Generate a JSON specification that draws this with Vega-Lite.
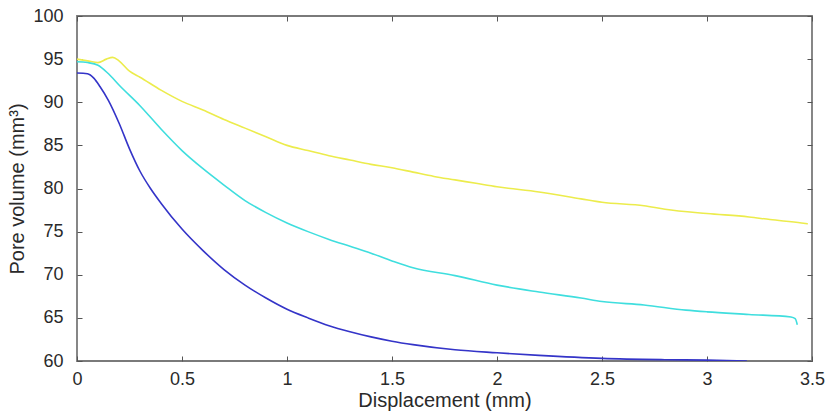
{
  "$schema": "https://vega.github.io/schema/vega-lite/v6.json",
  "width": 735,
  "height": 345,
  "autosize": {"type": "none"},
  "padding": {"left": 77, "top": 16, "right": 19, "bottom": 53},
  "background": "white",
  "config": {
    "view": {"stroke": "#7a7a7a", "strokeWidth": 1.8},
    "font": "Liberation Sans",
    "axis": {
      "grid": false,
      "domain": false,
      "tickColor": "#555555",
      "tickSize": -5,
      "tickWidth": 1,
      "labelFont": "Liberation Sans",
      "labelFontSize": 18,
      "labelColor": "#2a2a2a",
      "titleFont": "Liberation Sans",
      "titleFontSize": 20,
      "titleFontWeight": "normal",
      "titleColor": "#2a2a2a"
    }
  },
  "data": {
    "values": [
      {"s": "A", "x": 0, "y": 95.0}, {"s": "A", "x": 0.05, "y": 94.8}, {"s": "A", "x": 0.1, "y": 94.6}, {"s": "A", "x": 0.14, "y": 95.0}, {"s": "A", "x": 0.17, "y": 95.2}, {"s": "A", "x": 0.2, "y": 94.8}, {"s": "A", "x": 0.25, "y": 93.6}, {"s": "A", "x": 0.3, "y": 92.9}, {"s": "A", "x": 0.4, "y": 91.4}, {"s": "A", "x": 0.5, "y": 90.1}, {"s": "A", "x": 0.6, "y": 89.1}, {"s": "A", "x": 0.7, "y": 88.0}, {"s": "A", "x": 0.8, "y": 87.0}, {"s": "A", "x": 0.9, "y": 86.0}, {"s": "A", "x": 1.0, "y": 85.0}, {"s": "A", "x": 1.1, "y": 84.4}, {"s": "A", "x": 1.2, "y": 83.8}, {"s": "A", "x": 1.3, "y": 83.3}, {"s": "A", "x": 1.4, "y": 82.8}, {"s": "A", "x": 1.5, "y": 82.4}, {"s": "A", "x": 1.6, "y": 81.9}, {"s": "A", "x": 1.7, "y": 81.4}, {"s": "A", "x": 1.8, "y": 81.0}, {"s": "A", "x": 1.9, "y": 80.6}, {"s": "A", "x": 2.0, "y": 80.2}, {"s": "A", "x": 2.2, "y": 79.6}, {"s": "A", "x": 2.4, "y": 78.8}, {"s": "A", "x": 2.5, "y": 78.4}, {"s": "A", "x": 2.7, "y": 78.0}, {"s": "A", "x": 2.8, "y": 77.6}, {"s": "A", "x": 3.0, "y": 77.1}, {"s": "A", "x": 3.2, "y": 76.7}, {"s": "A", "x": 3.3, "y": 76.4}, {"s": "A", "x": 3.45, "y": 76.0}, {"s": "A", "x": 3.48, "y": 75.9},
      {"s": "B", "x": 0, "y": 94.7}, {"s": "B", "x": 0.05, "y": 94.6}, {"s": "B", "x": 0.1, "y": 94.3}, {"s": "B", "x": 0.15, "y": 93.3}, {"s": "B", "x": 0.2, "y": 92.0}, {"s": "B", "x": 0.3, "y": 89.6}, {"s": "B", "x": 0.4, "y": 86.9}, {"s": "B", "x": 0.5, "y": 84.4}, {"s": "B", "x": 0.6, "y": 82.3}, {"s": "B", "x": 0.7, "y": 80.4}, {"s": "B", "x": 0.8, "y": 78.6}, {"s": "B", "x": 0.9, "y": 77.2}, {"s": "B", "x": 1.0, "y": 76.0}, {"s": "B", "x": 1.1, "y": 75.0}, {"s": "B", "x": 1.2, "y": 74.1}, {"s": "B", "x": 1.3, "y": 73.3}, {"s": "B", "x": 1.4, "y": 72.5}, {"s": "B", "x": 1.5, "y": 71.6}, {"s": "B", "x": 1.6, "y": 70.8}, {"s": "B", "x": 1.8, "y": 69.9}, {"s": "B", "x": 2.0, "y": 68.8}, {"s": "B", "x": 2.2, "y": 68.0}, {"s": "B", "x": 2.4, "y": 67.3}, {"s": "B", "x": 2.5, "y": 66.9}, {"s": "B", "x": 2.7, "y": 66.5}, {"s": "B", "x": 2.9, "y": 65.9}, {"s": "B", "x": 3.0, "y": 65.7}, {"s": "B", "x": 3.2, "y": 65.4}, {"s": "B", "x": 3.4, "y": 65.1}, {"s": "B", "x": 3.42, "y": 64.9}, {"s": "B", "x": 3.43, "y": 64.2},
      {"s": "C", "x": 0, "y": 93.4}, {"s": "C", "x": 0.05, "y": 93.3}, {"s": "C", "x": 0.08, "y": 92.8}, {"s": "C", "x": 0.11, "y": 91.8}, {"s": "C", "x": 0.15, "y": 90.2}, {"s": "C", "x": 0.2, "y": 87.6}, {"s": "C", "x": 0.25, "y": 84.6}, {"s": "C", "x": 0.3, "y": 82.0}, {"s": "C", "x": 0.35, "y": 80.0}, {"s": "C", "x": 0.4, "y": 78.3}, {"s": "C", "x": 0.5, "y": 75.3}, {"s": "C", "x": 0.6, "y": 72.8}, {"s": "C", "x": 0.7, "y": 70.6}, {"s": "C", "x": 0.8, "y": 68.8}, {"s": "C", "x": 0.9, "y": 67.3}, {"s": "C", "x": 1.0, "y": 66.0}, {"s": "C", "x": 1.1, "y": 65.0}, {"s": "C", "x": 1.2, "y": 64.1}, {"s": "C", "x": 1.3, "y": 63.4}, {"s": "C", "x": 1.4, "y": 62.8}, {"s": "C", "x": 1.5, "y": 62.3}, {"s": "C", "x": 1.6, "y": 61.9}, {"s": "C", "x": 1.8, "y": 61.3}, {"s": "C", "x": 2.0, "y": 60.95}, {"s": "C", "x": 2.2, "y": 60.65}, {"s": "C", "x": 2.5, "y": 60.3}, {"s": "C", "x": 2.8, "y": 60.15}, {"s": "C", "x": 3.0, "y": 60.1}, {"s": "C", "x": 3.19, "y": 60.0}
    ]
  },
  "layer": [
    {
      "mark": {"type": "line", "strokeWidth": 1.6, "clip": true, "interpolate": "monotone"},
      "encoding": {
        "x": {"field": "x", "type": "quantitative", "scale": {"domain": [0, 3.5], "nice": false, "zero": false},
          "axis": {"title": "Displacement (mm)", "values": [0, 0.5, 1, 1.5, 2, 2.5, 3, 3.5], "format": "~r", "labelPadding": 14, "titlePadding": 2, "labelFlush": false}},
        "y": {"field": "y", "type": "quantitative", "scale": {"domain": [60, 100], "nice": false, "zero": false},
          "axis": {"title": "Pore volume (mm³)", "values": [60, 65, 70, 75, 80, 85, 90, 95, 100], "format": "d", "labelPadding": 19, "titlePadding": 5, "labelFlush": false}},
        "color": {"field": "s", "type": "nominal", "legend": null,
          "scale": {"domain": ["A", "B", "C"], "range": ["#ecec4c", "#3fdede", "#3434c8"]}},
        "order": {"field": "x", "type": "quantitative"}
      }
    },
    {
      "mark": {"type": "line", "opacity": 0},
      "encoding": {
        "x": {"field": "x", "type": "quantitative", "axis": {"orient": "top", "labels": false, "title": null, "values": [0, 0.5, 1, 1.5, 2, 2.5, 3, 3.5]}},
        "y": {"field": "y", "type": "quantitative", "axis": {"orient": "right", "labels": false, "title": null, "values": [60, 65, 70, 75, 80, 85, 90, 95, 100]}},
        "detail": {"field": "s"}
      }
    }
  ],
  "resolve": {"axis": {"x": "independent", "y": "independent"}}
}
